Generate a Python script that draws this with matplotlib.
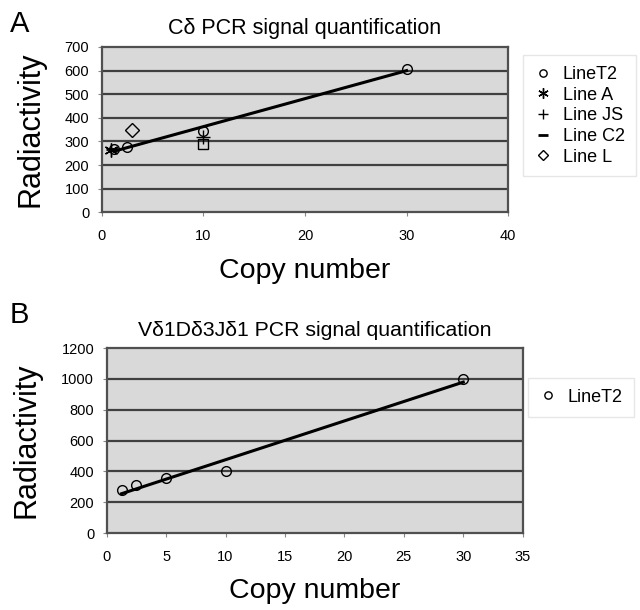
import numpy as np
from matplotlib import pyplot as plt

plt.rc('font', family=['Liberation Sans', 'DejaVu Sans'])

# panel A: C-delta PCR signal vs copy number
t2_a_x = [1.25, 2.5, 10, 30]
t2_a_y = [270, 275, 345, 605]
lineA_x = [0.9]
lineA_y = [265]
lineJS_x = [10]
lineJS_y = [318]
lineC2_x = [1.0]
lineC2_y = [268]
lineL_x = [3]
lineL_y = [350]
extra_a_x = [10]
extra_a_y = [288]

# panel B: Vd1Dd3Jd1 PCR signal vs copy number
t2_b_x = [1.25, 2.5, 5, 10, 30]
t2_b_y = [280, 310, 355, 400, 1000]

bg = '#d9d9d9'
grid_c = '#404040'
ms = 7


def style_axes(ax, xmax, xstep, ymax, ystep, xpad):
    ax.set_facecolor(bg)
    ax.set_xlim(0, xmax)
    ax.set_ylim(0, ymax)
    ax.set_xticks(np.arange(0, xmax + 1, xstep))
    ax.set_yticks(np.arange(0, ymax + 1, ystep))
    for y in np.arange(ystep, ymax, ystep):
        ax.axhline(y, color=grid_c, lw=1.6, zorder=1)
    for s in ax.spines.values():
        s.set_color('#505050')
        s.set_linewidth(1.6)
    ax.tick_params(labelsize=10.5, length=3, color='#888888', pad=6)
    ax.tick_params(axis='x', pad=9)
    ax.set_xlabel('Copy number', fontsize=20.5, labelpad=xpad)
    ax.set_ylabel('Radiactivity', fontsize=22, labelpad=14)


def trend(ax, x, y):
    k, b = np.polyfit(x, y, 1)
    xs = np.array([min(x), max(x)])
    ax.plot(xs, k * xs + b, color='black', lw=2.2, zorder=2)


fig = plt.figure(figsize=(6.4, 6.1), dpi=100)

ax1 = fig.add_axes([0.159, 0.652, 0.635, 0.271])
style_axes(ax1, 40, 10, 700, 100, 11)
trend(ax1, t2_a_x, t2_a_y)
mk = dict(mfc='none', mec='black', ms=ms, ls='none', zorder=3, mew=1.0)
ax1.plot(t2_a_x, t2_a_y, 'o', label='LineT2', **mk)
ax1.plot(lineA_x, lineA_y, marker=(6, 2, 0), label='Line A', color='black',
         ms=10, ls='none', mew=1.0, zorder=3)
ax1.plot(lineJS_x, lineJS_y, '+', label='Line JS', color='black', ms=10,
         ls='none', mew=1.0, zorder=3)
ax1.plot(lineC2_x, lineC2_y, '_', label='Line C2', color='black', ms=9,
         ls='none', mew=2.0, zorder=3)
ax1.plot(lineL_x, lineL_y, 'D', label='Line L', **mk)
ax1.plot(extra_a_x, extra_a_y, 's', **mk)
ax1.set_title('C\u03b4 PCR signal quantification', fontsize=15.5, pad=9)
ax1.legend(loc='upper left', bbox_to_anchor=(1.037, 0.95), fontsize=13,
           frameon=True, fancybox=False, edgecolor='#e0e0e0',
           handlelength=1.0, handletextpad=0.6, labelspacing=0.2,
           borderpad=0.6, borderaxespad=0, markerscale=0.75)

ax2 = fig.add_axes([0.1667, 0.1262, 0.65, 0.3033])
style_axes(ax2, 35, 5, 1200, 200, 10)
trend(ax2, t2_b_x, t2_b_y)
ax2.plot(t2_b_x, t2_b_y, 'o', label='LineT2', **mk)
ax2.set_title('V\u03b41D\u03b43J\u03b41 PCR signal quantification',
              fontsize=15.3, pad=9)
ax2.legend(loc='upper left', bbox_to_anchor=(1.013, 0.838), fontsize=13,
           frameon=True, fancybox=False, edgecolor='#e0e0e0',
           handlelength=1.0, handletextpad=0.6, borderpad=0.6,
           borderaxespad=0, markerscale=0.75)

fig.text(0.015, 0.947, 'A', fontsize=21)
fig.text(0.015, 0.47, 'B', fontsize=21)

fig.savefig('out.png', dpi=100, facecolor='white')
